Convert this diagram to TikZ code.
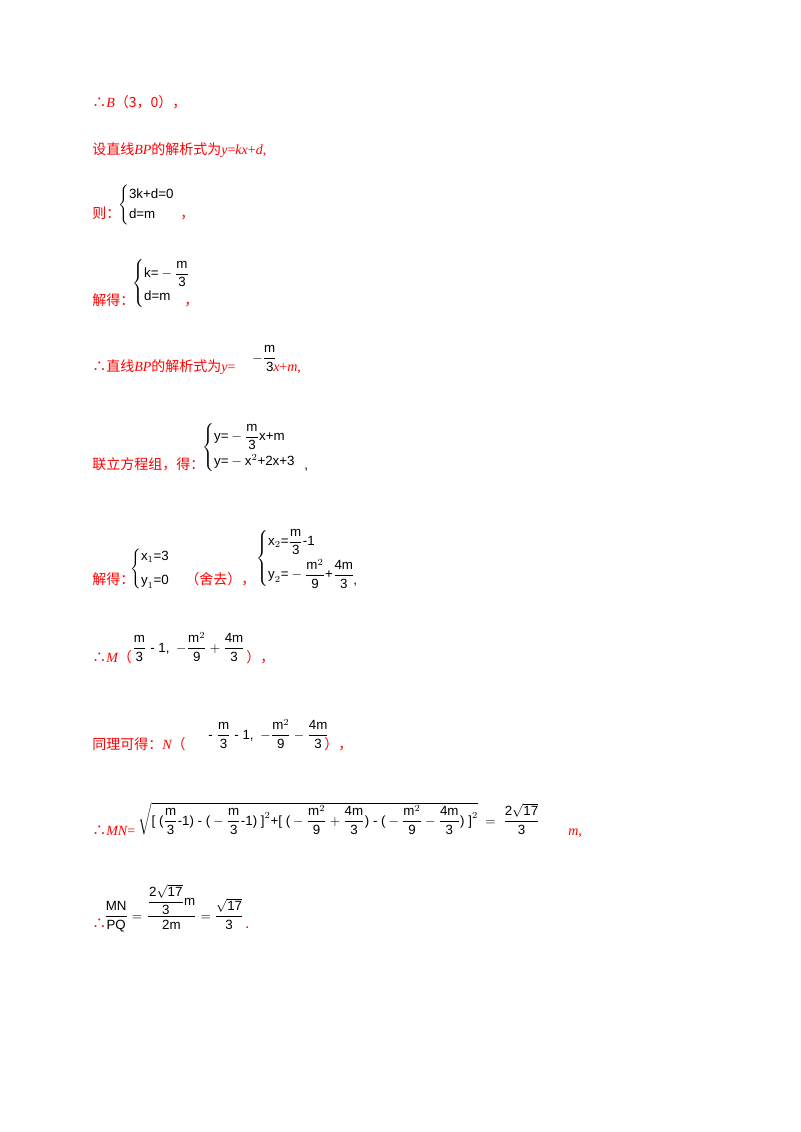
\documentclass[tikz,border=0pt]{standalone}
\usepackage{amsmath}
\usepackage{fontspec}
\setmainfont{Liberation Sans}
\newfontfamily\cjk{Noto Sans CJK SC}
\newfontfamily\tms{Liberation Serif}
\definecolor{rd}{RGB}{255,0,0}
\newcommand{\ff}[2]{\dfrac{\text{#1}}{\text{#2}}}
\newcommand{\tx}[1]{\text{#1}}
\begin{document}
\begin{tikzpicture}[x=0.75pt,y=-0.75pt,
  ch/.style={anchor=base west,inner sep=0,text=rd,font=\cjk\fontsize{10.5}{12}\selectfont},
  fm/.style={anchor=base west,inner sep=0,font=\fontsize{10}{12}\selectfont}]
\useasboundingbox (0,0) rectangle (800,1132);
\node[ch] (t1) at (92,107) {∴\tms\itshape B\cjk\upshape（3，0），};
\node[ch] (t2) at (92,154) {设直线\tms\itshape BP\cjk\upshape 的解析式为\tms\itshape y\upshape =\itshape kx\upshape +\itshape d\upshape ,};
\node[ch] (t3) at (92,218) {则：};
\node[fm] (s1) at (118,208) {$\begin{cases}\tx{3k+d=0}\\ \tx{d=m}\end{cases}$};
\node[ch] (c1) at (180,218) {，};
\node[ch] (t4) at (92,305) {解得：};
\node[fm] (s2) at (132,287) {$\begin{cases}\tx{k=}-\ff{m}{3}\\[2pt] \tx{d=m}\end{cases}$};
\node[ch] (c2) at (184,305) {，};
\node[ch] (t5) at (92,371) {∴直线\tms\itshape BP\cjk\upshape 的解析式为\tms\itshape y\upshape =};
\node[fm] (f5) at (252,362) {$-\ff{m}{3}$};
\node[ch] (t5b) at (273,371) {\tms\itshape x\upshape +\itshape m\upshape ,};
\node[ch] (t6) at (92,469) {联立方程组，得：};
\node[fm] (s3) at (202,451) {$\begin{cases}\tx{y=}-\ff{m}{3}\tx{x+m}\\[4pt] \tx{y=}-\tx{x}^2\tx{+2x+3}\end{cases}$};
\node[fm] (c3) at (304,469) {,};
\node[ch] (t7) at (92,584) {解得：};
\node[fm] (s4) at (130,572) {$\begin{cases}\tx{x}_1\tx{=3}\\[4pt] \tx{y}_1\tx{=0}\end{cases}$};
\node[ch] (t7b) at (185,584) {（舍去），};
\node[fm] (s5) at (256,562) {$\begin{cases}\tx{x}_2\tx{=}\ff{m}{3}\tx{-1}\\[6pt] \tx{y}_2\tx{=}-\ff{m$^2$}{9}\tx{+}\ff{4m}{3}\end{cases}$};
\node[fm] (c5) at (353,584) {,};
\node[ch] (t8) at (92,662) {∴\tms\itshape M\cjk\upshape（};
\node[fm] (f8) at (132,652) {$\ff{m}{3}$ - 1,\enspace $-\ff{m$^2$}{9}+\ff{4m}{3}$};
\node[ch] (t8b) at (246,662) {），};
\node[ch] (t9) at (92,749) {同理可得：\tms\itshape N\cjk\upshape（};
\node[fm] (f9) at (208,739) {- $\ff{m}{3}$ - 1,\enspace $-\ff{m$^2$}{9}-\ff{4m}{3}$};
\node[ch] (t9b) at (324,749) {），};
\node[ch] (t10) at (92,835) {∴\tms\itshape MN\upshape =};
\node[fm] (f10) at (138,825) {$\sqrt{\tx{[\ (}\ff{m}{3}\tx{-1)\ -\ (}-\ff{m}{3}\tx{-1)\ ]}^2\tx{+[\ (}-\ff{m$^2$}{9}+\ff{4m}{3}\tx{)\ -\ (}-\ff{m$^2$}{9}-\ff{4m}{3}\tx{)\ ]}^2}\ =\ \ff{2$\sqrt{\text{17}}$}{3}$};
\node[ch] (t10b) at (568,835) {\tms\itshape m\upshape ,};
\node[ch] (t11) at (92,928) {∴};
\node[fm] (f11) at (104,920) {$\ff{MN}{PQ}=\dfrac{\ff{2$\sqrt{\text{17}}$}{3}\tx{m}}{\tx{2m}}=\ff{$\sqrt{\text{17}}$}{3}$};
\node[ch] (t11b) at (245,928) {.};
\end{tikzpicture}
\end{document}
